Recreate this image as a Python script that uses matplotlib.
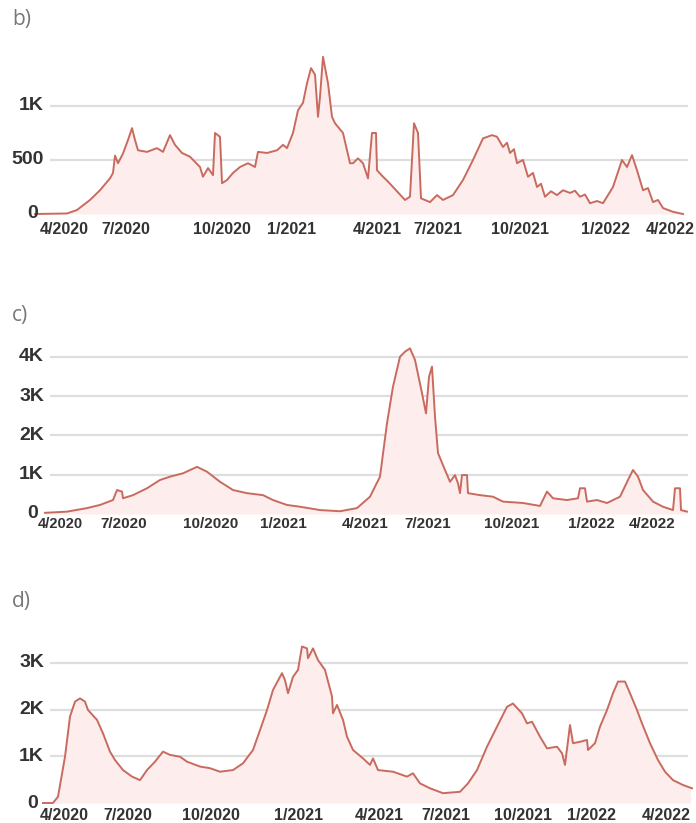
import matplotlib
matplotlib.use("Agg")
import matplotlib.pyplot as plt

# time axis is in the chart's own horizontal units
b_t = [35, 67, 77, 90, 100, 110, 113, 115, 118, 123, 128, 132, 135, 138, 147, 157, 163, 170, 175,
       182, 190, 200, 203, 208, 213, 215, 220, 222, 227, 233, 240, 248, 255, 258, 267, 277, 283,
       287, 293, 298, 303, 307, 311, 315, 318, 320, 323, 328, 332, 335, 343, 350, 353, 358, 363,
       368, 372, 376, 377, 383, 388, 393, 399, 405, 410, 414, 418, 421, 430, 437, 443, 453, 463, 473, 483,
       492, 497, 503, 507, 510, 514, 517, 523, 528, 533, 537, 541, 545, 551, 557, 563, 570, 575, 580,
       585, 590, 597, 603, 613, 622, 627, 632, 637, 643, 648, 653, 658, 663, 673, 683]
b_vals = [0, 5, 37, 130, 220, 330, 380, 540, 470, 560, 685, 795, 685, 590, 575, 610, 575, 730, 640,
          565, 530, 435, 345, 425, 360, 750, 715, 285, 315, 380, 435, 470, 435, 575, 565, 590, 640,
          610, 750, 960, 1030, 1210, 1350, 1290, 900, 1085, 1455, 1210, 900, 840, 750, 470, 470, 515, 470,
          330, 750, 750, 405, 345, 300, 250, 190, 130, 160, 840, 750, 145, 110, 175, 130, 175, 315, 500, 700,
          730, 715, 620, 660, 565, 600, 470, 500, 345, 380, 250, 280, 160, 210, 175, 220, 195, 215, 160,
          180, 100, 120, 100, 250, 500, 435, 545, 405, 220, 240, 110, 130, 55, 20, 0]

c_t = [45, 67, 87, 100, 113, 117, 122, 123, 133, 147, 160, 170, 183, 197, 207, 220, 233, 247, 263,
       273, 287, 300, 320, 340, 357, 370, 380, 387, 393, 400, 405, 410, 415, 422, 426, 429, 432, 435,
       438, 445, 450, 455, 458, 460, 462, 467, 468, 480, 493, 503, 523, 540, 547, 553, 567, 578, 580,
       585, 587, 597, 607, 620, 628, 633, 638, 643, 653, 663, 673, 675, 680, 681, 687]
c_vals = [30, 60, 150, 230, 355, 610, 570, 400, 480, 655, 865, 950, 1035, 1200, 1075, 820, 610, 530, 480,
          355, 230, 185, 100, 70, 150, 440, 950, 2310, 3240, 4000, 4130, 4215, 3920, 3075, 2560, 3490, 3750, 2475,
          1550, 1120, 820, 990, 780, 530, 990, 990, 530, 480, 440, 315, 280, 205, 570, 400, 355, 400, 655,
          655, 315, 355, 280, 440, 865, 1120, 950, 610, 315, 185, 100, 655, 655, 100, 60]

d_t = [43, 53, 58, 65, 70, 75, 80, 85, 88, 97, 103, 110, 115, 123, 132, 140, 147, 155, 163, 170, 180,
       187, 200, 210, 220, 233, 243, 253, 260, 267, 273, 282, 285, 288, 293, 298, 302, 307, 308, 313,
       318, 325, 332, 333, 337, 343, 347, 353, 363, 370, 373, 378, 393, 407, 413, 420, 430, 443, 460,
       468, 477, 487, 497, 507, 513, 522, 527, 532, 540, 547, 557, 562, 565, 570, 573, 580, 587, 588,
       595, 600, 607, 613, 618, 625, 630, 637, 642, 650, 658, 665, 673, 683, 692]
d_vals = [0, 0, 135, 990, 1850, 2170, 2240, 2170, 1990, 1780, 1490, 1100, 920, 705, 565, 490, 705, 885,
          1100, 1030, 990, 885, 780, 745, 670, 705, 850, 1135, 1560, 1990, 2420, 2780, 2630, 2350, 2700,
          2850, 3350, 3310, 3100, 3310, 3060, 2850, 2280, 1920, 2100, 1780, 1420, 1135, 955, 815, 955,
          705, 670, 565, 635, 420, 315, 210, 240, 420, 705, 1205, 1635, 2060, 2130, 1920, 1705, 1740,
          1420, 1170, 1205, 1065, 815, 1670, 1280, 1310, 1350, 1135, 1280, 1635, 1990, 2350, 2600, 2600,
          2350, 1990, 1705, 1280, 920, 670, 490, 385, 315]

x_labels = ["4/2020", "7/2020", "10/2020", "1/2021", "4/2021", "7/2021", "10/2021", "1/2022", "4/2022"]
b_ticks = [64, 126, 222, 292, 377, 438, 520, 605, 670]
c_ticks = [60, 124, 211, 283, 365, 428, 512, 591, 652]
d_ticks = [64, 128, 211, 299, 379, 446, 523, 592, 666]

b_yticks, b_ylabels = [0, 500, 1000], ["0", "500", "1K"]
c_yticks, c_ylabels = [0, 1000, 2000, 3000, 4000], ["0", "1K", "2K", "3K", "4K"]
d_yticks, d_ylabels = [0, 1000, 2000, 3000], ["0", "1K", "2K", "3K"]

W, H = 696, 823
LINE = "#c96a5f"
FILL = "#fdeeed"
TXT = "#333333"

fig = plt.figure(figsize=(W / 100, H / 100), dpi=100)


def panel(tag, t, vals, ticks, yticks, ylabels, y0, ytop, ymax, tag_y, xpad, xsize):
    # y0 / ytop are pixel rows of the axes bottom / top
    ax = fig.add_axes([30 / W, 1 - y0 / H, (690 - 30) / W, (y0 - ytop) / H])
    ax.set_xlim(30, 690)
    ax.set_ylim(0, ymax)
    for v in yticks[1:]:
        ax.hlines(v, 50, 688, color="#dedede", lw=1.6, zorder=0)
    ax.fill_between(t, vals, 0, color=FILL, lw=0, zorder=1)
    ax.plot(t, vals, color=LINE, lw=1.4, zorder=2, clip_on=False)
    for s in ax.spines.values():
        s.set_visible(False)
    ax.set_yticks([])
    # y labels: the zero sits a little further left than the rest
    for v, lab in zip(yticks, ylabels):
        ax.text(38 if v == 0 else 44, v, lab, ha="right", va="center", fontsize=14,
                fontweight="bold", color=TXT, family="Liberation Sans", clip_on=False)
    ax.set_xticks(ticks)
    ax.set_xticklabels(x_labels, fontsize=xsize, fontweight="bold", color=TXT,
                       family="Liberation Sans")
    ax.tick_params(axis="x", length=0, pad=xpad)
    fig.text(12 / W, 1 - tag_y / H, tag, fontsize=15, color="#777777",
             family="Open Sans", va="center", ha="left")
    return ax


panel("b)", b_t, b_vals, b_ticks, b_yticks, b_ylabels, 214, 47, 1546, 20, 5.5, 11.5)
ax_c = panel("c)", c_t, c_vals, c_ticks, c_yticks, c_ylabels, 514, 341, 4402, 315, 2.5, 11)
ax_c.get_xticklabels()[0].set_fontsize(10.5)
panel("d)", d_t, d_vals, d_ticks, d_yticks, d_ylabels, 803, 635, 3597, 602, 3.5, 11.5)

fig.savefig("out.png", dpi=100, facecolor="white")
